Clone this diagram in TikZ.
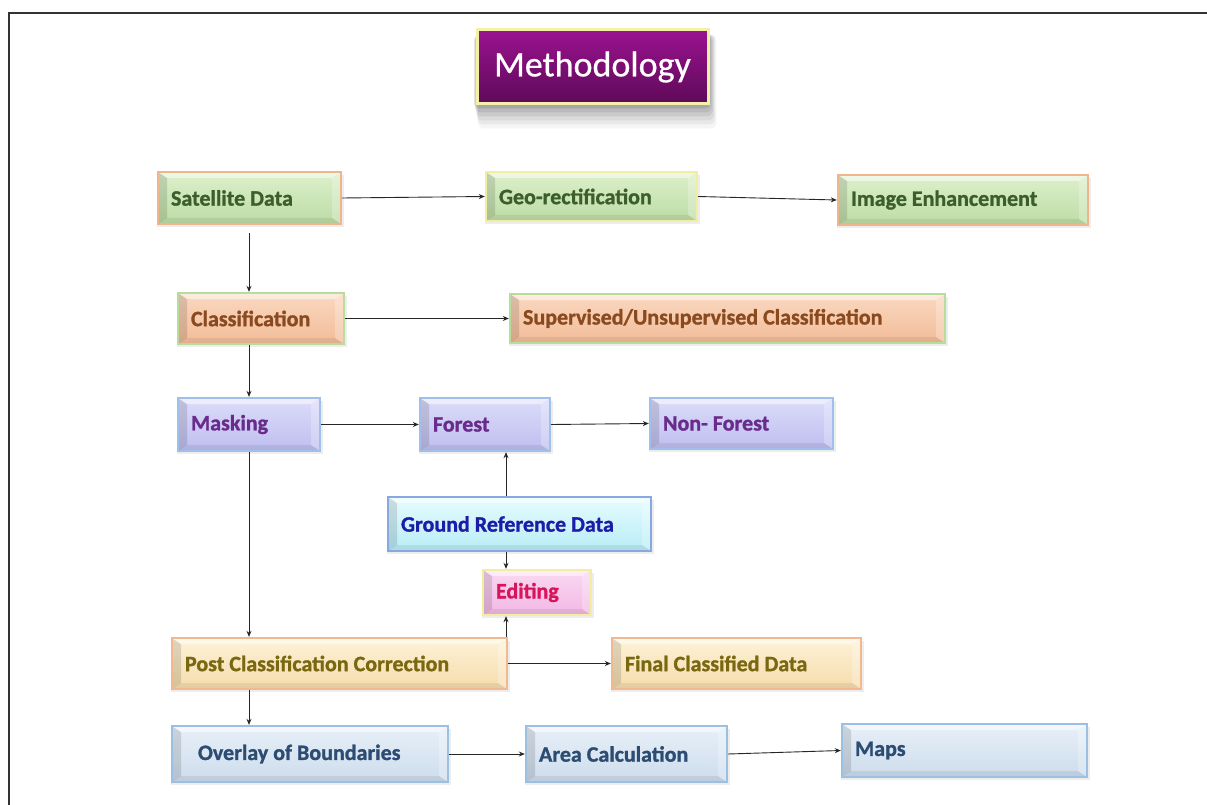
\documentclass[tikz,border=0pt]{standalone}
\usepackage{fontspec}
\setmainfont{Carlito}[BoldFeatures={FakeBold=1.2}]
\newfontfamily\titlefont{Carlito}[FakeBold=0.6]
\usetikzlibrary{arrows.meta,calc,backgrounds}
\newcommand\lbx[2]{\makebox[#1][l]{#2}}
\definecolor{Gtop}{HTML}{DDF0CC}\definecolor{Gbot}{HTML}{BCDCA4}\definecolor{Gtxt}{HTML}{3B5E2B}
\definecolor{OrB}{HTML}{F2B48C}\definecolor{YeB}{HTML}{F2EEA0}
\definecolor{Ptop}{HTML}{FAD8C0}\definecolor{Pbot}{HTML}{F2BC98}\definecolor{Ptxt}{HTML}{8A4A20}\definecolor{GrB}{HTML}{B8DC9C}
\definecolor{Ltop}{HTML}{DCDCFA}\definecolor{Lbot}{HTML}{BEBEF0}\definecolor{Ltxt}{HTML}{6A2C8C}\definecolor{LbB}{HTML}{A0C0EC}
\definecolor{Ctop}{HTML}{E6FCFE}\definecolor{Cbot}{HTML}{B8ECF6}\definecolor{Ctxt}{HTML}{1C1CA8}\definecolor{CbB}{HTML}{88A8E4}
\definecolor{Ktop}{HTML}{FAD8F2}\definecolor{Kbot}{HTML}{F2B8E4}\definecolor{Ktxt}{HTML}{D8145A}
\definecolor{Ttop}{HTML}{FDF2D8}\definecolor{Tbot}{HTML}{F6DCAC}\definecolor{Ttxt}{HTML}{7A6810}\definecolor{TbB}{HTML}{F2B890}
\definecolor{Stop}{HTML}{E8F0F8}\definecolor{Sbot}{HTML}{CCDCEC}\definecolor{Stxt}{HTML}{2C4C72}\definecolor{SbB}{HTML}{9CC0E4}
\definecolor{Mtop}{HTML}{9A1290}\definecolor{Mbot}{HTML}{5E0A58}\definecolor{MbB}{HTML}{F4F0A8}
\tikzset{
  bevel/.style={path picture={
    \coordinate (pnw) at (path picture bounding box.north west);
    \coordinate (pne) at (path picture bounding box.north east);
    \coordinate (psw) at (path picture bounding box.south west);
    \coordinate (pse) at (path picture bounding box.south east);
    \fill[black,opacity=.12] (psw) -- (pnw) -- ([shift={(9pt,-6pt)}]pnw) -- ([shift={(9pt,6pt)}]psw) -- cycle;
    \fill[white,opacity=.5] (pnw) -- (pne) -- ([shift={(-9pt,-6pt)}]pne) -- ([shift={(9pt,-6pt)}]pnw) -- cycle;
    \fill[white,opacity=.25] (pne) -- (pse) -- ([shift={(-9pt,6pt)}]pse) -- ([shift={(-9pt,-6pt)}]pne) -- cycle;
    \fill[black,opacity=.07] (psw) -- (pse) -- ([shift={(-9pt,6pt)}]pse) -- ([shift={(9pt,6pt)}]psw) -- cycle;
  }},
  base/.style={rectangle, bevel, inner xsep=13pt, inner ysep=0pt,
    font=\fontsize{22}{25}\selectfont\bfseries, line width=2.4pt},
  gbox/.style={base, top color=Gtop, bottom color=Gbot, text=Gtxt, draw=OrB},
  gyb/.style={base, top color=Gtop, bottom color=Gbot, text=Gtxt, draw=YeB},
  pbox/.style={base, top color=Ptop, bottom color=Pbot, text=Ptxt, draw=GrB},
  lbox/.style={base, top color=Ltop, bottom color=Lbot, text=Ltxt, draw=LbB},
  cbox/.style={base, top color=Ctop, bottom color=Cbot, text=Ctxt, draw=CbB},
  kbox/.style={base, top color=Ktop, bottom color=Kbot, text=Ktxt, draw=YeB},
  tbox/.style={base, top color=Ttop, bottom color=Tbot, text=Ttxt, draw=TbB},
  sbox/.style={base, top color=Stop, bottom color=Sbot, text=Stxt, draw=SbB},
  arr/.style={-{Stealth[length=6pt,width=5pt]}, line width=0.9pt, black!85},
}
\begin{document}
\begin{tikzpicture}[x=1pt,y=-1pt]
\useasboundingbox (0,0) rectangle (1207,805);

% title
\node[rectangle, top color=Mtop, bottom color=Mbot, draw=MbB, line width=3pt,
  minimum width=231pt, minimum height=74pt, text=white,
  font=\fontsize{36}{40}\titlefont] (title) at (592.5,67) {Methodology};

% boxes
\node[gbox, minimum height=52pt] (sat) at (249.5,198) {\lbx{157pt}{Satellite Data}};
\node[gyb, minimum height=49pt] (geo) at (591.5,196.5) {\lbx{185pt}{Geo-rectification}};
\node[gbox, minimum height=50pt] (img) at (963,200) {\lbx{224pt}{Image Enhancement}};
\node[pbox, minimum height=51pt] (cls) at (261,318.5) {\lbx{140pt}{Classification}};
\node[pbox, minimum height=49pt] (sup) at (727.5,318.5) {\lbx{409pt}{Supervised/Unsupervised Classification}};
\node[lbox, minimum height=53pt] (mask) at (249,424.5) {\lbx{116pt}{Masking}};
\node[lbox, minimum height=53pt] (forest) at (485,424.5) {\lbx{104pt}{Forest}};
\node[lbox, minimum height=51pt] (nonf) at (741.5,423.5) {\lbx{157pt}{Non- Forest}};
\node[cbox, minimum height=54pt] (grd) at (519.5,524) {\lbx{237pt}{Ground Reference Data}};
\node[kbox, minimum height=45pt] (edit) at (537,592.5) {\lbx{82pt}{Editing}};
\node[tbox, minimum height=51pt] (post) at (339.5,663.5) {\lbx{309pt}{Post Classification Correction}};
\node[tbox, minimum height=51pt] (final) at (736.5,663.5) {\lbx{223pt}{Final Classified Data}};
\node[sbox, inner xsep=26pt, minimum height=56pt] (over) at (310,754) {\lbx{224pt}{Overlay of Boundaries}};
\node[sbox, minimum height=56pt] (area) at (626.5,754) {\lbx{175pt}{Area Calculation}};
\node[sbox, minimum height=53pt] (maps) at (964.5,750.5) {\lbx{219pt}{Maps}};

% background and shadows
\begin{scope}[on background layer]
  \fill[white] (0,0) rectangle (1207,805);
  \foreach \n in {sat,geo,img,cls,sup,mask,forest,nonf,grd,edit,post,final,over,area,maps}{
    \fill[black,opacity=.07] ([shift={(0pt,-2pt)}]\n.south west) rectangle ([shift={(2pt,-4pt)}]\n.north east);
    \fill[black,opacity=.06] ([shift={(1pt,-5pt)}]\n.south west) rectangle ([shift={(2pt,-5pt)}]\n.south east);
  }
  \foreach \k/\o in {3/.10,7/.08,11/.07,15/.06,19/.05,23/.04}{
    \fill[black,opacity=\o,rounded corners=6pt] ([shift={(-2pt+0.2*\k pt,-\k pt)}]title.south west) rectangle ([shift={(0.3*\k pt,-6pt)}]title.north east);
  }
\end{scope}
\draw[line width=1.1pt, black!80] (9,805) -- (9,13) -- (1207,13);

% connectors
\draw[arr] (sat.east) -- (geo.west);
\draw[arr] (geo.east) -- (img.west);
\draw[arr] (sat.south -| mask.center) ++(0,8) coordinate (s1) -- (s1 |- cls.north);
\draw[arr] (cls.east) -- (sup.west);
\draw[arr] (cls.south -| mask.center) -- (mask.north);
\draw[arr] (mask.east) -- (forest.west);
\draw[arr] (forest.east) -- (nonf.west);
\draw[arr] (grd.north -| 506,0) -- (forest.south -| 506,0);
\draw[arr] (grd.south -| 506,0) -- (edit.north -| 506,0);
\draw[arr] (post.north -| 506,0) -- (edit.south -| 506,0);
\draw[arr] (mask.south) -- (mask.south |- post.north);
\draw[arr] (post.east) -- (final.west);
\draw[arr] (post.south -| mask.center) -- (mask.center |- over.north);
\draw[arr] (over.east) -- (area.west);
\draw[arr] (area.east) -- (maps.west);
\end{tikzpicture}
\end{document}
